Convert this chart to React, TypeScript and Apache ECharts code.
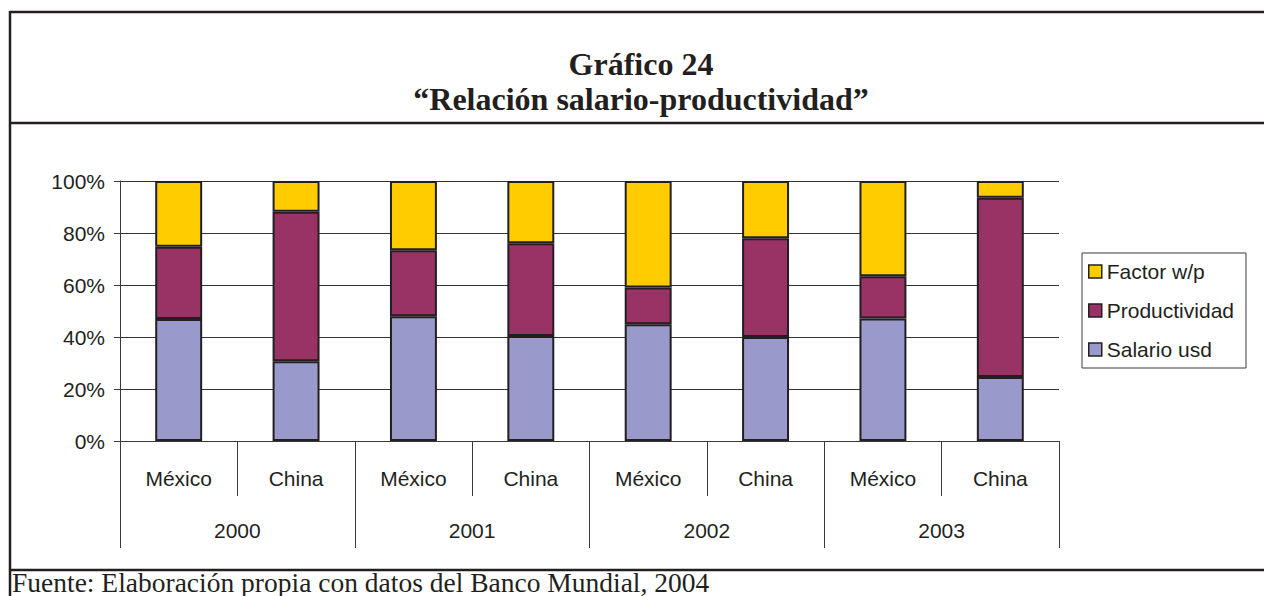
import React, { useEffect, useRef } from "react";
import * as echarts from "echarts";

const countries = ["México", "China", "México", "China", "México", "China", "México", "China"];
const years = ["2000", "2001", "2002", "2003"];
const yTicks = [0, 20, 40, 60, 80, 100];
const salario = [46.9, 30.7, 48.0, 40.4, 44.9, 40.0, 47.1, 24.6];
const productividad = [27.8, 57.5, 25.4, 35.7, 14.1, 38.0, 16.3, 69.0];
const factor = [25.3, 11.8, 26.6, 23.9, 41.0, 22.0, 36.6, 6.4];
const seriesNames = ["Factor w/p", "Productividad", "Salario usd"];
const titleLines = ["Gráfico 24", "“Relación salario-productividad”"];
const footer = "Fuente: Elaboración propia con datos del Banco Mundial, 2004";

const SANS = "'Liberation Sans', Arial, sans-serif";
const SERIF = "'Liberation Serif', 'Times New Roman', serif";
const FRAME = "#231f20";
const AXIS = "#3a3a3a";
const FS = 21;

export default function App() {
  const ref = useRef<HTMLDivElement>(null);
  useEffect(() => {
    if (!ref.current) return;
    const chart = echarts.init(ref.current, undefined, { renderer: "svg" });
    const barStyle = (color: string) => ({ color, borderColor: "#231f20", borderWidth: 2 });
    chart.setOption({
      animation: false,
      backgroundColor: "#ffffff",
      textStyle: { fontFamily: SANS },
      grid: { left: 120, right: 205, top: 181, bottom: 155, containLabel: false },
      legend: {
        orient: "vertical",
        left: 1082,
        top: 253,
        data: seriesNames,
        icon: "rect",
        itemWidth: 13,
        itemHeight: 13,
        itemGap: 18,
        itemTextGap: 5,
        itemStyle: { borderColor: "#231f20", borderWidth: 1.5 },
        padding: [8, 12, 8, 6],
        borderColor: AXIS,
        borderWidth: 1,
        textStyle: { fontFamily: SANS, fontSize: FS, color: "#231f20" },
      },
      xAxis: [
        {
          type: "category",
          data: countries,
          position: "bottom",
          axisLine: { show: true, lineStyle: { color: AXIS, width: 1 } },
          axisTick: { show: true, interval: 0, length: 55, lineStyle: { color: AXIS, width: 1 } },
          axisLabel: { interval: 0, margin: 27, fontSize: FS, color: "#231f20", fontFamily: SANS },
          splitLine: { show: false },
        },
        {
          type: "category",
          data: years,
          position: "bottom",
          axisLine: { show: true, lineStyle: { color: AXIS, width: 1 } },
          axisTick: { show: true, interval: 0, length: 107, lineStyle: { color: AXIS, width: 1 } },
          axisLabel: { interval: 0, margin: 79, fontSize: FS, color: "#231f20", fontFamily: SANS },
          splitLine: { show: false },
        },
      ],
      yAxis: {
        type: "value",
        min: yTicks[0],
        max: yTicks[yTicks.length - 1],
        interval: 20,
        axisLine: { show: true, lineStyle: { color: AXIS, width: 1 } },
        axisTick: { show: true, inside: false, length: 6, lineStyle: { color: AXIS, width: 1 } },
        axisLabel: { formatter: "{value}%", margin: 15, fontSize: FS, color: "#231f20", fontFamily: SANS },
        splitLine: { show: true, lineStyle: { color: "#333333", width: 1 } },
      },
      series: [
        { name: "Salario usd", type: "bar", stack: "total", barWidth: "40%", data: salario, itemStyle: barStyle("#9999cc") },
        { name: "Productividad", type: "bar", stack: "total", barWidth: "40%", data: productividad, itemStyle: barStyle("#993366") },
        { name: "Factor w/p", type: "bar", stack: "total", barWidth: "40%", data: factor, itemStyle: barStyle("#ffcc00") },
      ],
      graphic: [
        { type: "line", shape: { x1: 10, y1: 12, x2: 1264, y2: 12 }, style: { stroke: FRAME, lineWidth: 2.5 } },
        { type: "line", shape: { x1: 10, y1: 123, x2: 1264, y2: 123 }, style: { stroke: FRAME, lineWidth: 2.5 } },
        { type: "line", shape: { x1: 10, y1: 570, x2: 1264, y2: 570 }, style: { stroke: FRAME, lineWidth: 2.5 } },
        { type: "line", shape: { x1: 10, y1: 11, x2: 10, y2: 596 }, style: { stroke: FRAME, lineWidth: 2.5 } },
        {
          type: "text", x: 641, y: 80,
          style: { text: titleLines[0], fill: "#231f20", font: `bold 32px ${SERIF}`, textAlign: "center", textVerticalAlign: "bottom" },
        },
        {
          type: "text", x: 641, y: 115,
          style: { text: titleLines[1], fill: "#231f20", font: `bold 32px ${SERIF}`, textAlign: "center", textVerticalAlign: "bottom" },
        },
        {
          type: "text", x: 12, y: 596,
          style: { text: footer, fill: "#231f20", font: `27.5px ${SERIF}`, textAlign: "left", textVerticalAlign: "bottom" },
        },
      ],
    });
    return () => chart.dispose();
  }, []);
  return <div ref={ref} style={{ position: "fixed", left: 0, top: 0, width: 1264, height: 596 }} />;
}
